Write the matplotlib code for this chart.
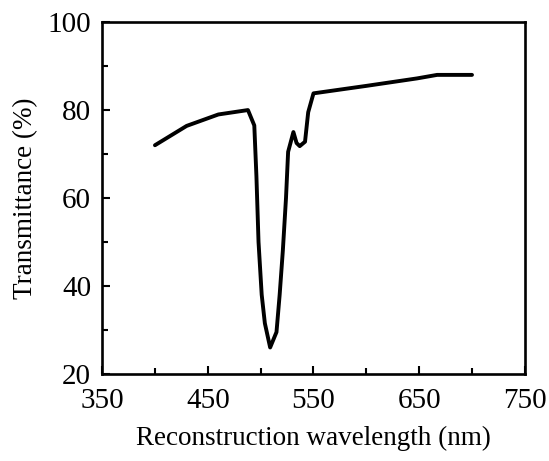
import numpy as np
import matplotlib
matplotlib.use('Agg')
from matplotlib import pyplot as plt
from matplotlib.ticker import FixedLocator

# transmittance spectrum
wavelength = [400, 430, 460, 488, 494, 496, 498, 501, 504, 509, 515, 518, 521, 524,
              526, 531, 534, 537, 542, 545, 550, 600, 648, 667, 700]
transmit = [72, 76.4, 79, 80, 76.5, 65, 50, 38, 31.5, 26, 29.5, 38, 48, 60,
            70.5, 75, 72.5, 71.8, 72.8, 79.5, 83.8, 85.5, 87.2, 88, 88]

x_major = [350, 450, 550, 650, 750]
x_minor = [400, 500, 600, 700]
y_major = [20, 40, 60, 80, 100]
y_minor = [30, 50, 70, 90]

plt.rcParams['font.family'] = ['Liberation Serif', 'DejaVu Serif']

fig = plt.figure(figsize=(5.49, 4.61), dpi=100)
ax = fig.add_axes([0.186, 0.189, 0.770, 0.763])

ax.plot(wavelength, transmit, color='black', lw=2.8, solid_joinstyle='round',
        solid_capstyle='round')

ax.set_xlim(350, 750)
ax.set_ylim(20, 100)
ax.xaxis.set_major_locator(FixedLocator(x_major))
ax.xaxis.set_minor_locator(FixedLocator(x_minor))
ax.yaxis.set_major_locator(FixedLocator(y_major))
ax.yaxis.set_minor_locator(FixedLocator(y_minor))
ax.tick_params(which='both', direction='in', top=False, right=False,
               width=1.5, labelsize=21)
ax.tick_params(which='major', length=6, pad=8)
ax.tick_params(axis='x', which='major', pad=10)
ax.tick_params(which='minor', length=4)
for s in ax.spines.values():
    s.set_linewidth(1.9)

ax.set_xlabel('Reconstruction wavelength (nm)', fontsize=19.5, labelpad=9)
ax.set_ylabel('Transmittance (%)', fontsize=19.5, labelpad=7)

fig.savefig('out.png', dpi=100)
